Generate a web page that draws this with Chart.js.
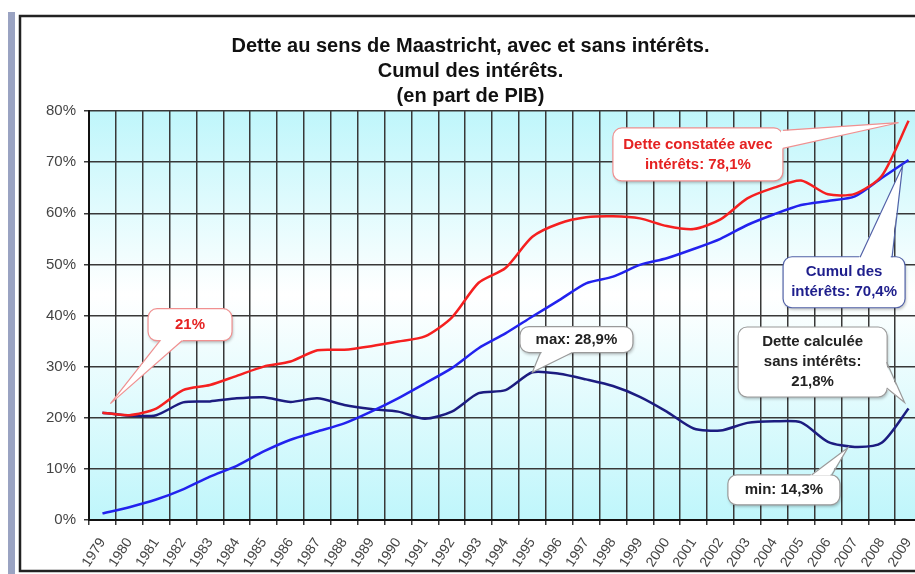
<!DOCTYPE html>
<html>
<head>
<meta charset="utf-8">
<script src="https://cdn.jsdelivr.net/npm/chart.js@4/dist/chart.umd.min.js"></script>
<style>
  body { margin: 0; overflow: hidden; background: #fff; }
  #wrap { width: 940px; height: 574px; }
</style>
</head>
<body>
<div id="wrap"><canvas id="debtChart" width="940" height="574"></canvas></div>
<script>
// years on the x axis
const years = ['1979','1980','1981','1982','1983','1984','1985','1986','1987','1988',
  '1989','1990','1991','1992','1993','1994','1995','1996','1997','1998','1999','2000',
  '2001','2002','2003','2004','2005','2006','2007','2008','2009'];

// dette constatée (avec intérêts), % du PIB
const detteAvec = [21.0, 20.5, 21.8, 25.4, 26.4, 28.2, 30.0, 31.0, 33.2, 33.3, 34.0,
  34.9, 35.9, 39.6, 46.4, 49.3, 55.4, 58.0, 59.2, 59.4, 59.0, 57.5, 56.9, 58.8, 62.9,
  65.0, 66.4, 63.7, 63.8, 67.3, 78.1];

// cumul des intérêts
const cumulInterets = [1.3, 2.5, 4.0, 6.0, 8.5, 10.6, 13.4, 15.7, 17.3, 18.9, 21.2,
  23.8, 26.7, 29.7, 33.6, 36.5, 39.8, 43.0, 46.3, 47.6, 49.9, 51.2, 53.0, 55.0, 57.7,
  59.8, 61.6, 62.4, 63.3, 66.9, 70.4];

// dette calculée sans intérêts
const detteSans = [21.0, 20.4, 20.5, 23.0, 23.2, 23.8, 24.0, 23.1, 23.8, 22.5, 21.7,
  21.2, 19.8, 21.2, 24.8, 25.4, 28.9, 28.6, 27.5, 26.2, 24.1, 21.2, 17.9, 17.5, 19.0,
  19.3, 19.1, 15.3, 14.3, 15.1, 21.8];

const yTicks = [0, 10, 20, 30, 40, 50, 60, 70, 80];

const titleLines = ['Dette au sens de Maastricht, avec et sans intérêts.',
  'Cumul des intérêts.', '(en part de PIB)'];

// callouts: box centre in (category index, value), pointer tip at a data point
const callouts = [
  { lines: ['21%'], ds: 0, i: 0, bx: 3.26, by: 38.2, w: 84, h: 32,
    color: '#e52222', border: '#f09090', base: [[-30, 16], [-8, 16]], tip: [8, -9] },
  { lines: ['Dette constatée avec', 'intérêts: 78,1%'], ds: 0, i: 30, bx: 22.16, by: 71.5,
    w: 170, h: 53, color: '#e52222', border: '#f09090',
    base: [[85, -24], [85, -6]], tip: [-10, 2] },
  { lines: ['Cumul des', 'intérêts: 70,4%'], ds: 1, i: 30, bx: 27.6, by: 46.5, w: 122, h: 51,
    color: '#1e1e8c', border: '#5262a8', base: [[16, -25], [48, -25]], tip: [-6, 6] },
  { lines: ['max: 28,9%'], ds: 2, i: 16, bx: 17.64, by: 35.3, w: 113, h: 26,
    color: '#222', border: '#9a9a9a', base: [[-36, 13], [-4, 13]], tip: [0, 0] },
  { lines: ['Dette calculée', 'sans intérêts:', '21,8%'], ds: 2, i: 30, bx: 26.43, by: 30.9,
    w: 149, h: 70, color: '#222', border: '#9a9a9a',
    base: [[74, 0], [74, 26]], tip: [-4, -6] },
  { lines: ['min: 14,3%'], ds: 2, i: 28, bx: 25.36, by: 5.9, w: 112, h: 30,
    color: '#222', border: '#9a9a9a', base: [[28, -15], [48, -15]], tip: [-7, 1] }
];

const FONT = '"Liberation Sans", Arial, sans-serif';

// frame + plot background
const framePlugin = {
  id: 'frame',
  beforeDraw(chart) {
    const ctx = chart.ctx;
    const a = chart.chartArea;
    ctx.save();
    ctx.fillStyle = '#fff';
    ctx.fillRect(0, 0, chart.width, chart.height);
    ctx.fillStyle = '#9aa3c2';
    ctx.fillRect(8, 12, 7, chart.height);
    ctx.strokeStyle = '#222';
    ctx.lineWidth = 2.5;
    ctx.strokeRect(20, 16, chart.width + 20, 555);
    const g = ctx.createLinearGradient(0, a.top, 0, a.bottom);
    g.addColorStop(0, '#bff6fb');
    g.addColorStop(0.45, '#ffffff');
    g.addColorStop(1, '#bff6fb');
    ctx.fillStyle = g;
    ctx.fillRect(a.left, a.top, a.right - a.left, a.bottom - a.top);
    ctx.restore();
  }
};

function roundRect(ctx, x, y, w, h, r) {
  ctx.beginPath();
  ctx.moveTo(x + r, y);
  ctx.arcTo(x + w, y, x + w, y + h, r);
  ctx.arcTo(x + w, y + h, x, y + h, r);
  ctx.arcTo(x, y + h, x, y, r);
  ctx.arcTo(x, y, x + w, y, r);
  ctx.closePath();
}

// speech-bubble labels
const calloutPlugin = {
  id: 'callouts',
  afterDatasetsDraw(chart) {
    const ctx = chart.ctx;
    const xs = chart.scales.x, ys = chart.scales.y;
    callouts.forEach(c => {
      const val = chart.data.datasets[c.ds].data[c.i];
      const px = xs.getPixelForValue(c.i) + c.tip[0];
      const py = ys.getPixelForValue(val) + c.tip[1];
      const cx = xs.getPixelForValue(c.bx);
      const cy = ys.getPixelForValue(c.by);
      const x0 = cx - c.w / 2, y0 = cy - c.h / 2;
      ctx.save();
      // box
      ctx.shadowColor = 'rgba(0,0,0,0.25)';
      ctx.shadowBlur = 3;
      ctx.shadowOffsetX = 1;
      ctx.shadowOffsetY = 2;
      roundRect(ctx, x0, y0, c.w, c.h, 9);
      ctx.fillStyle = '#fff';
      ctx.fill();
      ctx.shadowColor = 'transparent';
      ctx.strokeStyle = c.border;
      ctx.lineWidth = 1.2;
      ctx.stroke();
      // pointer
      const b1 = [cx + c.base[0][0], cy + c.base[0][1]];
      const b2 = [cx + c.base[1][0], cy + c.base[1][1]];
      const ix = (cx - (b1[0] + b2[0]) / 2), iy = (cy - (b1[1] + b2[1]) / 2);
      const len = Math.hypot(ix, iy) || 1;
      const dx = ix / len * 2, dy = iy / len * 2;
      ctx.beginPath();
      ctx.moveTo(b1[0] + dx, b1[1] + dy);
      ctx.lineTo(px, py);
      ctx.lineTo(b2[0] + dx, b2[1] + dy);
      ctx.closePath();
      ctx.fillStyle = '#fff';
      ctx.fill();
      ctx.beginPath();
      ctx.moveTo(b1[0], b1[1]);
      ctx.lineTo(px, py);
      ctx.lineTo(b2[0], b2[1]);
      ctx.stroke();
      // text
      ctx.fillStyle = c.color;
      ctx.font = 'bold 15px ' + FONT;
      ctx.textAlign = 'center';
      ctx.textBaseline = 'middle';
      const lh = 20;
      const start = cy - (c.lines.length - 1) * lh / 2;
      c.lines.forEach((t, k) => ctx.fillText(t, cx, start + k * lh));
      ctx.restore();
    });
  }
};

const ctx = document.getElementById('debtChart').getContext('2d');
new Chart(ctx, {
  type: 'line',
  data: {
    labels: years,
    datasets: [
      { label: 'Dette constatée avec intérêts', data: detteAvec,
        borderColor: '#f52020', borderWidth: 2.5 },
      { label: 'Cumul des intérêts', data: cumulInterets,
        borderColor: '#2222ee', borderWidth: 2.5 },
      { label: 'Dette calculée sans intérêts', data: detteSans,
        borderColor: '#1c1c80', borderWidth: 2.5 }
    ]
  },
  options: {
    responsive: false,
    animation: false,
    layout: { padding: { left: 19, right: 18, top: 34, bottom: 4 } },
    elements: { point: { radius: 0 }, line: { tension: 0.25 } },
    plugins: {
      legend: { display: false },
      tooltip: { enabled: false },
      title: {
        display: true,
        text: titleLines,
        color: '#111',
        font: { family: FONT, size: 20, weight: 'bold', lineHeight: '25px' },
        padding: { top: 0, bottom: 2 }
      }
    },
    scales: {
      x: {
        offset: true,
        afterFit(scale) { scale.height = 50; },
        grid: { offset: true, color: '#383838', lineWidth: 1.5, tickLength: 5 },
        border: { color: '#111', width: 2 },
        ticks: {
          color: '#444', minRotation: 57, maxRotation: 57, padding: 10,
          font: { family: FONT, size: 14 }
        }
      },
      y: {
        min: 0, max: 80,
        afterFit(scale) { scale.width = 70; },
        afterBuildTicks(scale) { scale.ticks = yTicks.map(v => ({ value: v })); },
        grid: { color: '#383838', lineWidth: 1.5, tickLength: 5 },
        border: { color: '#111', width: 2 },
        ticks: {
          color: '#444', padding: 8,
          font: { family: FONT, size: 15 },
          callback: v => v + '%'
        }
      }
    }
  },
  plugins: [framePlugin, calloutPlugin]
});
</script>
</body>
</html>
